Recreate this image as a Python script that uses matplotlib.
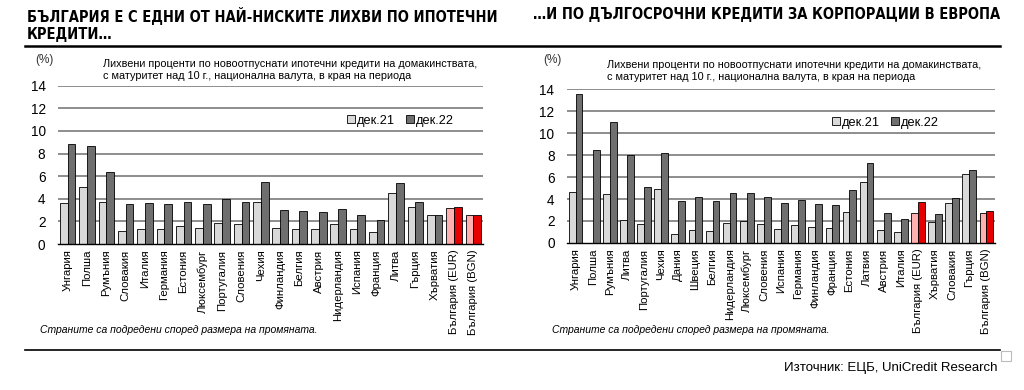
import numpy as np
import matplotlib
matplotlib.use("Agg")
import matplotlib.pyplot as plt
from matplotlib import font_manager
from matplotlib.patches import Rectangle
from matplotlib.lines import Line2D

# ---------------- data ----------------
left_countries = ["Унгария", "Полша", "Румъния", "Словакия", "Италия", "Германия", "Естония",
                  "Люксембург", "Португалия", "Словения", "Чехия", "Финландия", "Белгия", "Австрия",
                  "Нидерландия", "Испания", "Франция", "Литва", "Гърция", "Хърватия",
                  "България (EUR)", "България (BGN)"]
left_dec21 = [3.6, 5.0, 3.7, 1.15, 1.35, 1.35, 1.55, 1.45, 1.9, 1.75, 3.7, 1.4, 1.35, 1.35,
              1.75, 1.35, 1.1, 4.5, 3.25, 2.6, 3.2, 2.6]
left_dec22 = [8.8, 8.7, 6.4, 3.5, 3.6, 3.55, 3.7, 3.55, 4.0, 3.7, 5.45, 3.0, 2.95, 2.8,
              3.1, 2.6, 2.1, 5.4, 3.7, 2.6, 3.3, 2.6]

right_countries = ["Унгария", "Полша", "Румъния", "Литва", "Португалия", "Чехия", "Дания", "Швеция",
                   "Белгия", "Нидерландия", "Люксембург", "Словения", "Испания", "Германия",
                   "Финландия", "Франция", "Естония", "Латвия", "Австрия", "Италия",
                   "България (EUR)", "Хърватия", "Словакия", "Гърция", "България (BGN)"]
right_dec21 = [4.6, np.nan, 4.5, 2.1, 1.7, 4.9, 0.8, 1.2, 1.05, 1.8, 2.0, 1.7, 1.3, 1.6,
               1.45, 1.4, 2.85, 5.55, 1.15, 1.0, 2.7, 1.9, 3.6, 6.3, 2.7]
right_dec22 = [13.55, 8.5, 11.0, 8.0, 5.05, 8.2, 3.8, 4.15, 3.85, 4.55, 4.55, 4.15, 3.65, 3.9,
               3.55, 3.5, 4.85, 7.25, 2.7, 2.2, 3.75, 2.65, 4.05, 6.65, 2.95]

series_labels = ["дек.21", "дек.22"]
yticks = [0, 2, 4, 6, 8, 10, 12, 14]

title_left = "БЪЛГАРИЯ Е С ЕДНИ ОТ НАЙ-НИСКИТЕ ЛИХВИ ПО ИПОТЕЧНИ\nКРЕДИТИ…"
title_right = "…И ПО ДЪЛГОСРОЧНИ КРЕДИТИ ЗА КОРПОРАЦИИ В ЕВРОПА"
subtitle = ("Лихвени проценти по новоотпуснати ипотечни кредити на домакинствата,\n"
            "с матуритет над 10 г., национална валута, в края на периода")
note = "Страните са подредени според размера на промяната."
source = "Източник: ЕЦБ, UniCredit Research"

# ---------------- style ----------------
names = {f.name for f in font_manager.fontManager.ttflist}
plt.rcParams['font.family'] = ['Liberation Sans', 'DejaVu Sans']
if 'Liberation Sans Narrow' in names:
    title_font = dict(family=['Liberation Sans Narrow', 'DejaVu Sans'], fontweight='bold')
else:
    title_font = dict(family=['DejaVu Sans'], fontweight='bold', fontstretch='condensed')

LIGHT = "#d9d9d9"
DARK = "#6f6f6f"
BG_LIGHT = "#ffb0b0"
BG_DARK = "#e60000"
GRID = "#7a7a7a"

fig = plt.figure(figsize=(10.24, 3.9), dpi=100)


def draw(ax, countries, d21, d22, leg_x):
    n = len(countries)
    x = np.arange(n)
    w = 0.4
    c21 = [BG_LIGHT if c.startswith("България") else LIGHT for c in countries]
    c22 = [BG_DARK if c.startswith("България") else DARK for c in countries]
    ax.bar(x - w / 2, d21, w, color=c21, edgecolor="black", linewidth=0.6, zorder=3)
    ax.bar(x + w / 2, d22, w, color=c22, edgecolor="black", linewidth=0.6, zorder=3)
    ax.set_xlim(-0.5, n - 0.5)
    ax.set_ylim(0, 14)
    ax.set_yticks(yticks)
    ax.set_yticklabels([str(t) for t in yticks], fontsize=9.8)
    ax.set_xticks(x)
    ax.set_xticklabels(countries, rotation=90, fontsize=8.2)
    ax.tick_params(axis='x', length=0, pad=4)
    ax.tick_params(axis='y', length=0, pad=9)
    for t in yticks[1:]:
        ax.axhline(t, color=GRID, linewidth=1.2, zorder=1)
    for s in ["top", "right", "left"]:
        ax.spines[s].set_visible(False)
    ax.spines["bottom"].set_color("black")
    ax.spines["bottom"].set_linewidth(1.0)
    ax.spines["bottom"].set_zorder(4)
    handles = [Rectangle((0, 0), 1, 1, facecolor=LIGHT, edgecolor="black", linewidth=0.6),
               Rectangle((0, 0), 1, 1, facecolor=DARK, edgecolor="black", linewidth=0.6)]
    ax.legend(handles, series_labels, loc="center left", bbox_to_anchor=(leg_x, 0.78),
              ncol=2, frameon=False, fontsize=9.2, handlelength=0.6, handleheight=0.6,
              handletextpad=0.15, columnspacing=0.9, borderpad=0, borderaxespad=0)


axL = fig.add_axes([58 / 1024, 1 - 244 / 390, 425 / 1024, (244 - 85.7) / 390])
draw(axL, left_countries, left_dec21, left_dec22, 0.68)
axR = fig.add_axes([567 / 1024, 1 - 243 / 390, 428 / 1024, (243 - 89) / 390])
draw(axR, right_countries, right_dec21, right_dec22, 0.62)

# titles
fig.text(27 / 1024, 1 - 7 / 390, title_left, ha="left", va="top", fontsize=10.5,
         linespacing=1.2, **title_font)
fig.text(533 / 1024, 1 - 7 / 390, title_right, ha="left", va="top", fontsize=10.5, **title_font)
fig.add_artist(Line2D([25 / 1024, 1000 / 1024], [1 - 46 / 390] * 2, color="black", linewidth=1.8))
fig.add_artist(Line2D([25 / 1024, 1000 / 1024], [1 - 350 / 390] * 2, color="black", linewidth=1.2))

# (%) labels and subtitles
fig.text(44 / 1024, 1 - 60 / 390, "(%)", ha="center", va="center", fontsize=8.5, color="#333333")
fig.text(552 / 1024, 1 - 60 / 390, "(%)", ha="center", va="center", fontsize=8.5, color="#333333")
fig.text(103 / 1024, 1 - 59 / 390, subtitle, ha="left", va="top", fontsize=7.85, linespacing=1.2)
fig.text(607 / 1024, 1 - 60 / 390, subtitle, ha="left", va="top", fontsize=7.85, linespacing=1.2)

# notes
fig.text(40 / 1024, 1 - 330 / 390, note, ha="left", va="center", fontsize=7.5, style="italic")
fig.text(552 / 1024, 1 - 330 / 390, note, ha="left", va="center", fontsize=7.5, style="italic")

# source
fig.text(998 / 1024, 1 - 368 / 390, source, ha="right", va="center", fontsize=9.5)
fig.add_artist(Rectangle((1001 / 1024, 1 - 361 / 390), 10 / 1024, 10 / 390,
                         transform=fig.transFigure, facecolor="white",
                         edgecolor="#bbbbbb", linewidth=0.8))

fig.savefig("out.png", dpi=100)
